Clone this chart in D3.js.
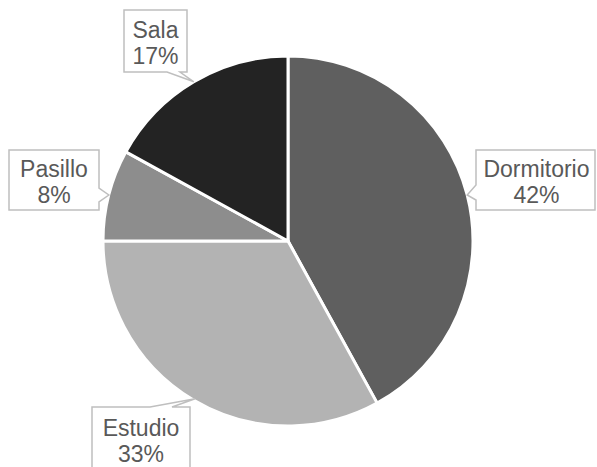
<!DOCTYPE html>
<html>
<head>
<meta charset="utf-8">
<script src="https://cdn.jsdelivr.net/npm/d3@7"></script>
<style>
  html, body { margin: 0; padding: 0; background: #fff; }
  svg { display: block; }
</style>
</head>
<body>
<svg id="chart" width="597" height="467"></svg>
<script>
// ---- data ----
const categories = ["Dormitorio", "Estudio", "Pasillo", "Sala"];
const values = [42, 33, 8, 17];
const percentLabels = ["42%", "33%", "8%", "17%"];

// ---- styles / layout ----
const sliceColors = ["#5f5f5f", "#b3b3b3", "#8d8d8d", "#232323"];
const W = 597, H = 467;
const cx = 288, cy = 241, R = 185;

// callout boxes: x0,y0,x1,y1 ; wedge side and base range ; optional tip angle override (fraction of radius)
const callouts = [
  { x0: 476, y0: 150, x1: 595, y1: 210, side: "left",   b0: 185, b1: 200 },
  { x0: 92,  y0: 407, x1: 190, y1: 470, side: "top",    b0: 150, b1: 172, tipAngleDeg: 210.5, tipR: 183 },
  { x0: 9,   y0: 150, x1: 99,  y1: 210, side: "right",  b0: 188, b1: 202 },
  { x0: 124, y0: 10,  x1: 187, y1: 72,  side: "bottom", b0: 167, b1: 180 }
];

const svg = d3.select("#chart");

const pie = d3.pie().sort(null).value(d => d).startAngle(0).endAngle(2 * Math.PI);
const arcs = pie(values);
const arcGen = d3.arc().innerRadius(0).outerRadius(R);
const color = d3.scaleOrdinal().domain(categories).range(sliceColors);

const g = svg.append("g").attr("transform", `translate(${cx},${cy})`);
g.selectAll("path.slice")
  .data(arcs)
  .enter().append("path")
  .attr("class", "slice")
  .attr("d", arcGen)
  .attr("fill", (d, i) => color(categories[i]))
  .attr("stroke", "#ffffff")
  .attr("stroke-width", 3)
  .attr("stroke-linejoin", "round");

// callouts
function polar(angle, r) {
  return [cx + r * Math.sin(angle), cy - r * Math.cos(angle)];
}

arcs.forEach((a, i) => {
  const c = callouts[i];
  const mid = (a.startAngle + a.endAngle) / 2;
  const tip = c.tipAngleDeg !== undefined
    ? polar(c.tipAngleDeg * Math.PI / 180, c.tipR)
    : polar(mid, R);
  const { x0, y0, x1, y1 } = c;
  let pts;
  if (c.side === "left") {
    pts = [[x0, y0], [x1, y0], [x1, y1], [x0, y1], [x0, c.b1], tip, [x0, c.b0]];
  } else if (c.side === "right") {
    pts = [[x0, y0], [x1, y0], [x1, c.b0], tip, [x1, c.b1], [x1, y1], [x0, y1]];
  } else if (c.side === "top") {
    pts = [[x0, y0], [c.b0, y0], tip, [c.b1, y0], [x1, y0], [x1, y1], [x0, y1]];
  } else {
    pts = [[x0, y0], [x1, y0], [x1, y1], [c.b1, y1], tip, [c.b0, y1], [x0, y1]];
  }
  svg.append("path")
    .attr("d", "M" + pts.map(p => p.join(",")).join("L") + "Z")
    .attr("fill", "#ffffff")
    .attr("stroke", "#bfbfbf")
    .attr("stroke-width", 1.5);

  const tx = (x0 + Math.min(x1, W)) / 2 + (c.side === "left" ? 1 : 0);
  const ccy = (y0 + y1) / 2;
  const t = svg.append("text")
    .attr("text-anchor", "middle")
    .attr("font-family", "Liberation Sans, Arial, sans-serif")
    .attr("font-size", 23)
    .attr("fill", "#595959");
  t.append("tspan").attr("x", tx).attr("y", ccy - 3).text(categories[i]);
  t.append("tspan").attr("x", tx).attr("y", ccy + 23).text(percentLabels[i]);
});
</script>
</body>
</html>
